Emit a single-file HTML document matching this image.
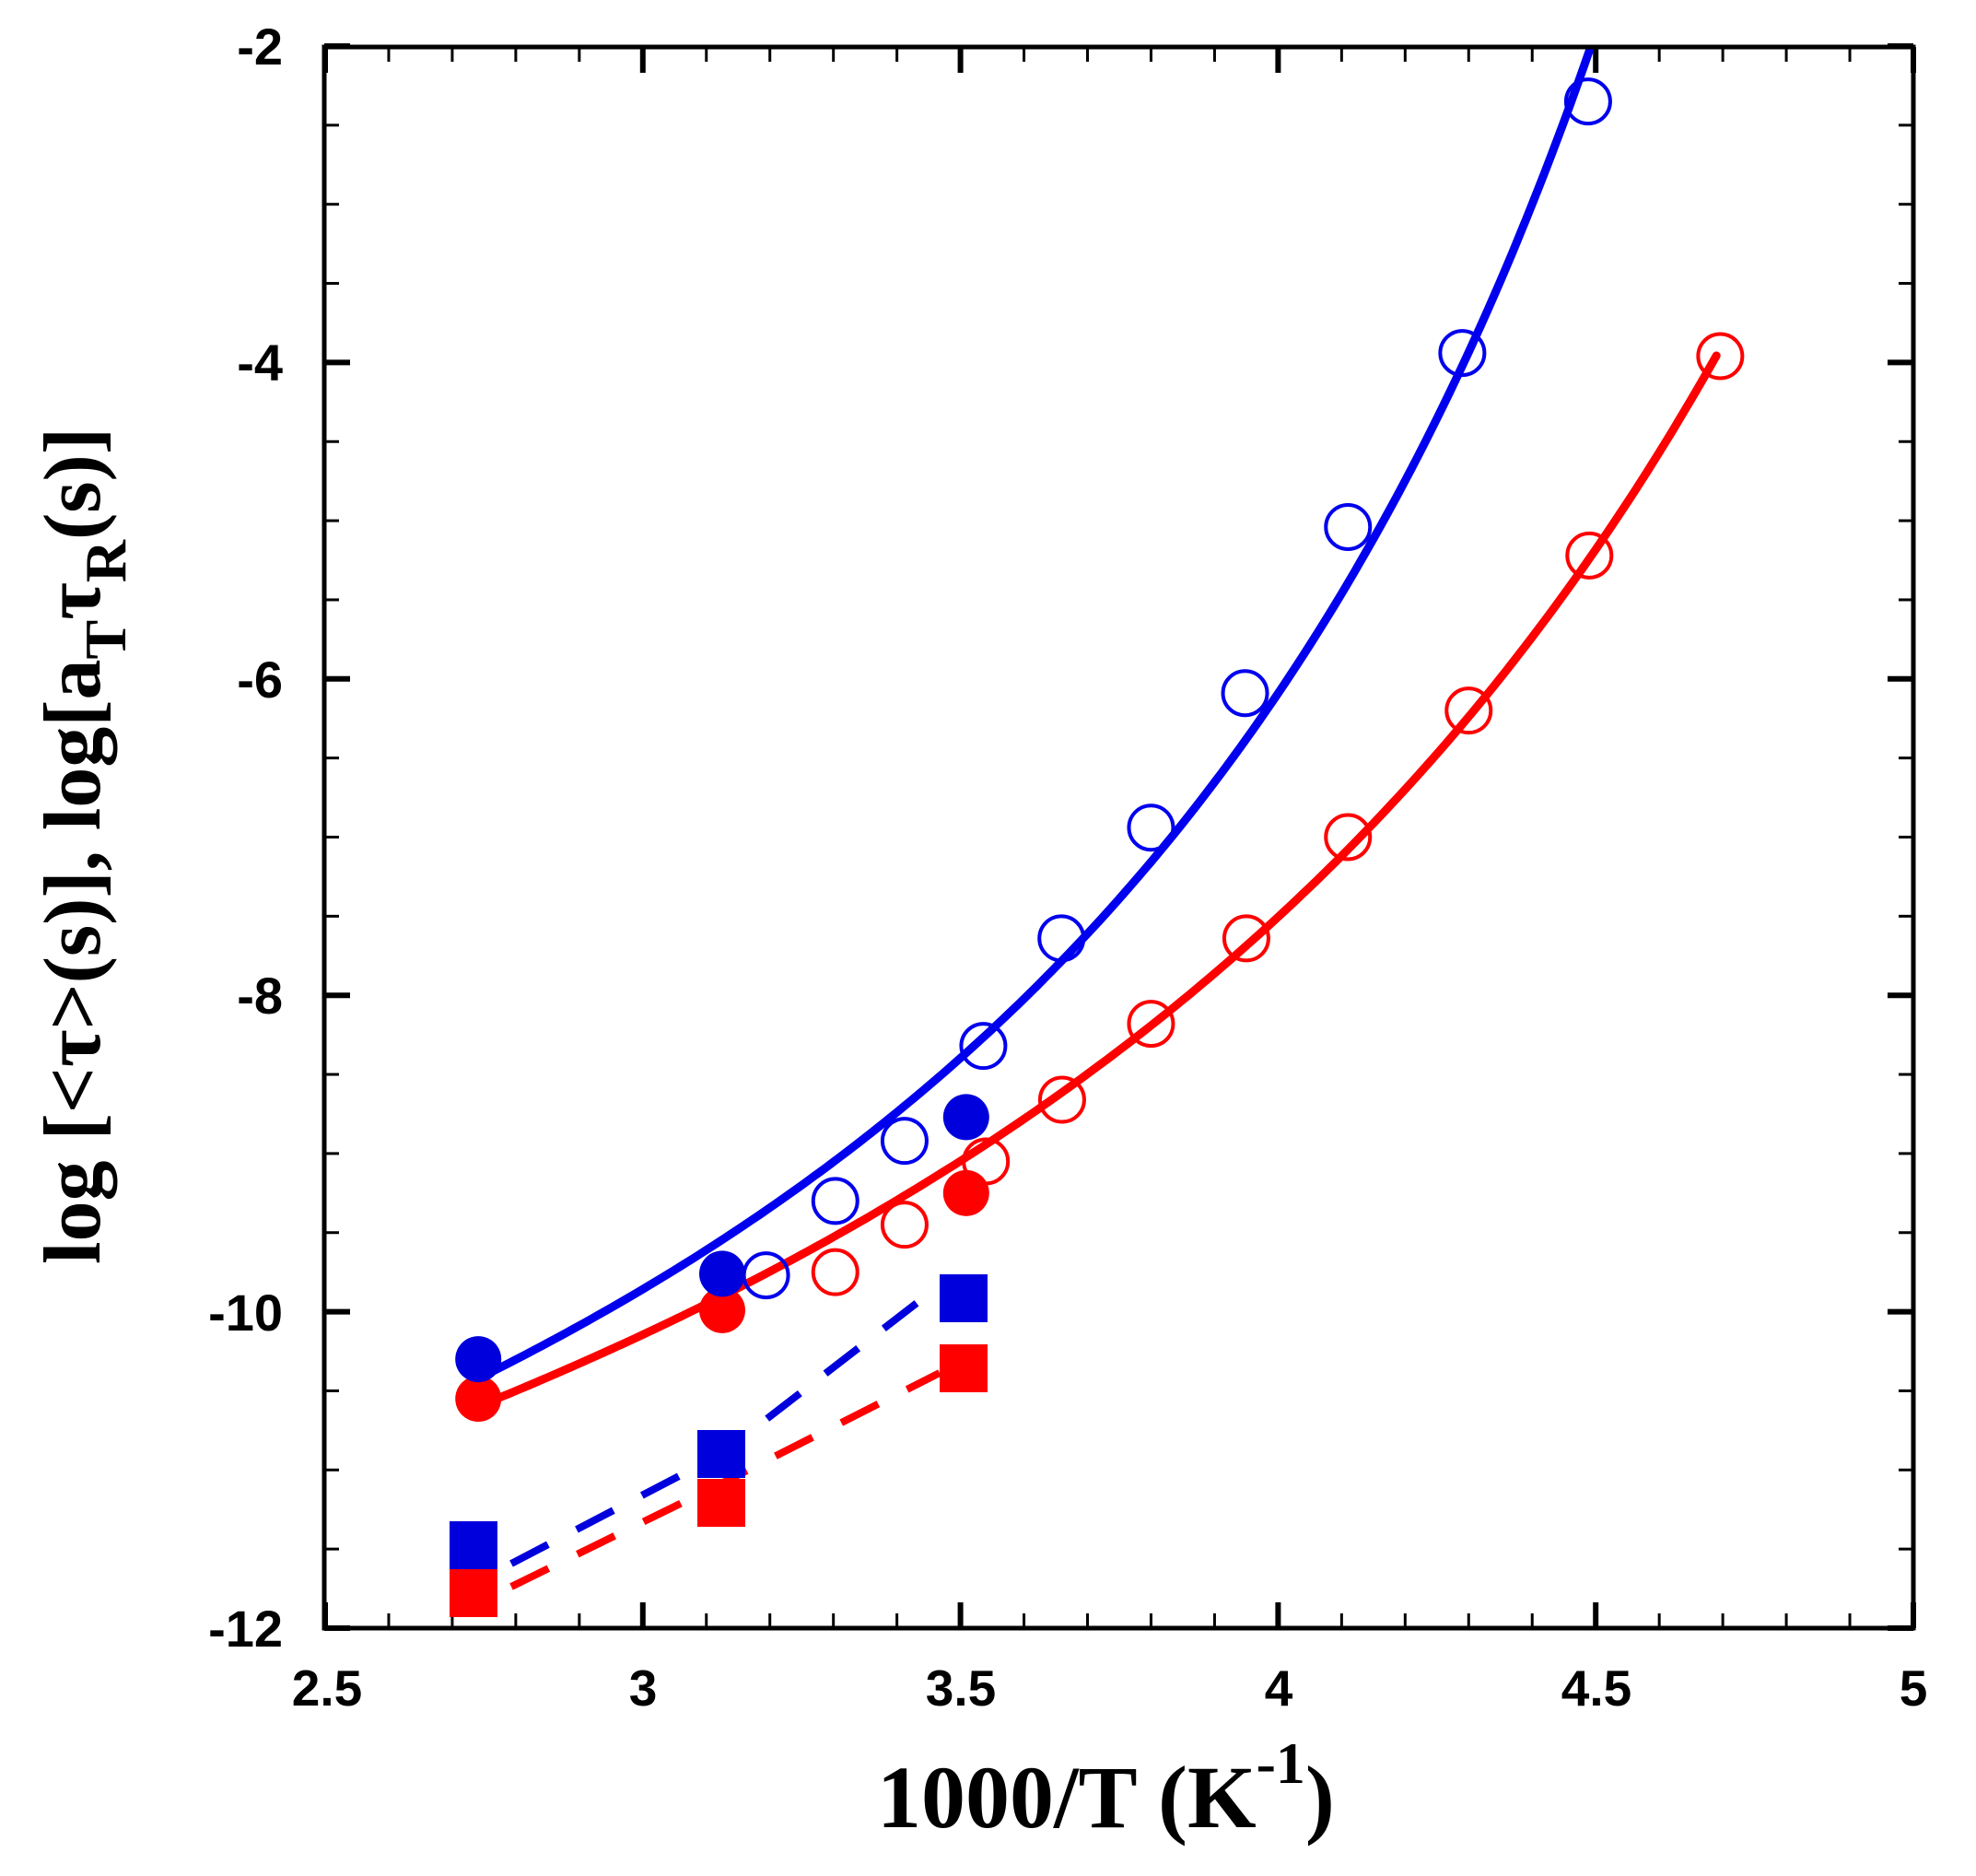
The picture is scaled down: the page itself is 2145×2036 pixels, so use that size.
<!DOCTYPE html>
<html><head><meta charset="utf-8"><style>html,body{margin:0;padding:0;background:#fff}svg{display:block}</style></head>
<body>
<svg id="s" xmlns="http://www.w3.org/2000/svg" width="2145" height="2036" viewBox="0 0 2145 2036">
<rect width="2145" height="2036" fill="#fff"/>
<g id="ticks"></g>
<g id="curves"></g>
<g id="pts"></g>
<rect x="352" y="51" width="1725" height="1716" fill="none" stroke="#000" stroke-width="5"/>
<g font-family="Liberation Sans, Arial, sans-serif" font-weight="bold" font-size="56" fill="#000" text-anchor="end">
<text x="307" y="70">-2</text>
<text x="307" y="413">-4</text>
<text x="307" y="757">-6</text>
<text x="307" y="1100">-8</text>
<text x="307" y="1444">-10</text>
<text x="307" y="1787">-12</text>
</g>
<g font-family="Liberation Sans, Arial, sans-serif" font-weight="bold" font-size="55" fill="#000" text-anchor="middle">
<text x="355" y="1851">2.5</text>
<text x="698" y="1851">3</text>
<text x="1043" y="1851">3.5</text>
<text x="1388" y="1851">4</text>
<text x="1733" y="1851">4.5</text>
<text x="2077" y="1851">5</text>
</g>
<text x="952" y="1983" font-family="Liberation Serif, Times New Roman, serif" font-weight="bold" font-size="96" fill="#000">1000/T (K<tspan font-size="64" dy="-48">-1</tspan><tspan dy="48">)</tspan></text>
<text transform="translate(108,1372) rotate(-90)" font-family="Liberation Serif, Times New Roman, serif" font-weight="bold" font-size="88" fill="#000">log [&lt;τ&gt;(s)], log[a<tspan font-size="64" dy="28">T</tspan><tspan dy="-28">τ</tspan><tspan font-size="64" dy="28">R</tspan><tspan dy="-28">(s)]</tspan></text>
</svg>
<script>
var NS="http://www.w3.org/2000/svg";
function X(x){return 353+(x-2.5)*689.6;}
function Y(y){return 50+(-2-y)*171.7;}
function el(p,t,a){var e=document.createElementNS(NS,t);for(var k in a)e.setAttribute(k,a[k]);document.getElementById(p).appendChild(e);return e;}
for(var i=0;i<=25;i++){var x=X(2.5+i*0.1);var maj=(i%5==0);var L=maj?28:16,w=maj?6:3;
 el('ticks','line',{x1:x,y1:1767,x2:x,y2:1767-L,stroke:'#000','stroke-width':w});
 el('ticks','line',{x1:x,y1:51,x2:x,y2:51+L,stroke:'#000','stroke-width':w});}
for(var i=0;i<=20;i++){var y=Y(-2-i*0.5);var maj=(i%4==0);var L=maj?28:16,w=maj?6:3;
 el('ticks','line',{x1:352,y1:y,x2:352+L,y2:y,stroke:'#000','stroke-width':w});
 el('ticks','line',{x1:2077,y1:y,x2:2077-L,y2:y,stroke:'#000','stroke-width':w});}
function vft(A,B,T0,x0,x1,col){var d='';for(var x=x0;x<=x1+1e-9;x+=0.01){var T=1000/x;var y=A+B/(T-T0);if(y>-2){y=-2;}d+=(d?'L':'M')+X(x).toFixed(1)+','+Y(y).toFixed(1);if(y>=-2)break;}
 el('curves','path',{d:d,fill:'none',stroke:col,'stroke-width':9,'stroke-linecap':'round'});}
vft(-13.27,542,174.5,2.74,4.49,'#0000ee');
vft(-13.17,541,154.5,2.74,4.69,'#ff0000');
el('curves','path',{d:'M555,1697 L783,1578 L1020,1395',fill:'none',stroke:'#0000dd','stroke-width':8,'stroke-dasharray':'45,35'});
el('curves','path',{d:'M555,1722 L783,1610 L1020,1490',fill:'none',stroke:'#ff0000','stroke-width':8,'stroke-dasharray':'45,35'});
var bo=[[3.194,-9.77],[3.303,-9.30],[3.412,-8.92],[3.536,-8.32],[3.659,-7.64],[3.80,-6.94],[3.948,-6.09],[4.11,-5.04],[4.29,-3.94],[4.488,-2.35]];
var ro=[[3.303,-9.75],[3.412,-9.45],[3.54,-9.05],[3.66,-8.66],[3.80,-8.18],[3.95,-7.64],[4.11,-7.0],[4.30,-6.2],[4.49,-5.22],[4.696,-3.96]];
bo.forEach(function(p){el('pts','circle',{cx:X(p[0]),cy:Y(p[1]),r:24,fill:'none',stroke:'#0000ee','stroke-width':4});});
ro.forEach(function(p){el('pts','circle',{cx:X(p[0]),cy:Y(p[1]),r:24,fill:'none',stroke:'#ff0000','stroke-width':4});});
[[2.741,-10.55],[3.125,-9.99],[3.509,-9.25]].forEach(function(p){el('pts','circle',{cx:X(p[0]),cy:Y(p[1]),r:25,fill:'#ff0000'});});
[[2.741,-10.30],[3.125,-9.76],[3.509,-8.77]].forEach(function(p){el('pts','circle',{cx:X(p[0]),cy:Y(p[1]),r:25,fill:'#0000dd'});});
[[514,1729],[783,1631],[1046,1485]].forEach(function(p){el('pts','rect',{x:p[0]-26,y:p[1]-26,width:52,height:52,fill:'#ff0000'});});
[[514,1677],[783,1578],[1046,1409]].forEach(function(p){el('pts','rect',{x:p[0]-26,y:p[1]-26,width:52,height:52,fill:'#0000dd'});});
</script>
</body></html>
